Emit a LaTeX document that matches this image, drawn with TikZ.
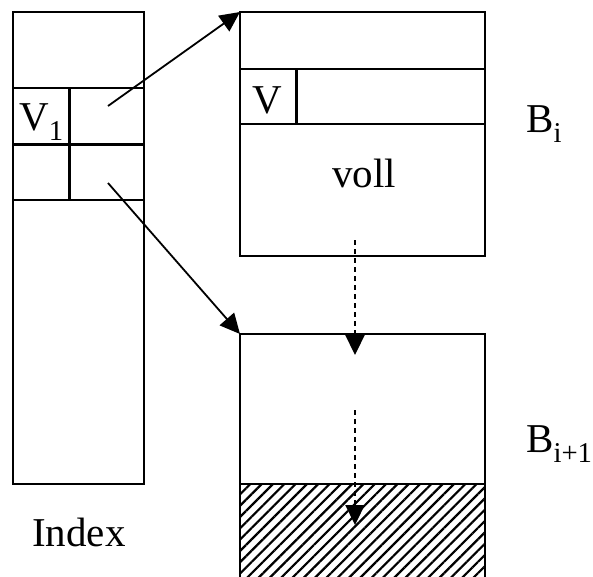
\documentclass[tikz,border=0pt]{standalone}
\usepackage{fontspec}
\setmainfont{Liberation Serif}
\usetikzlibrary{arrows.meta,patterns.meta}
\begin{document}
\begin{tikzpicture}[x=1pt,y=-1pt,
  ln/.style={line width=1.8pt},
  lnb/.style={line width=3pt},
  arr/.style={line width=1.8pt,-{Triangle[length=20pt,width=19pt]}},
  dotarr/.style={line width=2.2pt,dash pattern=on 4.5pt off 4.5pt,-{Triangle[length=20pt,width=19pt]}},
  lbl/.style={inner sep=0pt,anchor=base west,font=\fontsize{41}{49}\selectfont},
  hatch/.style={pattern={Lines[angle=45,distance=8pt,line width=2.2pt]}}]
\clip (0,0) rectangle (593,576);
% Index column
\draw[ln] (13,12) rectangle (144,484);
\draw[ln] (13,88) -- (144,88);
\draw[ln] (13,200) -- (144,200);
\draw[lnb] (13,144) -- (144,144);
\draw[lnb] (69,88) -- (69,200);
\node[lbl] (v1) at (19,130) {V\textsubscript{1}};
\node[lbl] (index) at (32,546) {Index};
% Block B_i
\draw[ln] (240,12) rectangle (485,256);
\draw[ln] (240,69) -- (485,69);
\draw[ln] (240,124) -- (485,124);
\draw[lnb] (296,69) -- (296,124);
\node[lbl] (v) at (252,113) {V};
\node[lbl] (voll) at (332,187) {voll};
\node[lbl] (bi) at (526,132) {B\textsubscript{i}};
% Block B_{i+1}
\fill[hatch] (240,484) rectangle (485,580);
\draw[ln] (240,580) -- (240,334) -- (485,334) -- (485,580);
\draw[ln] (240,484) -- (485,484);
\node[lbl] (bi1) at (526,452) {B\textsubscript{i+1}};
% connectors
\coordinate (p1) at (108,106);
\coordinate (p2) at (108,183);
\coordinate (bitop) at (240,12);
\coordinate (bi1top) at (240,334);
\coordinate (d1s) at (355,240);
\coordinate (d1e) at (355,355);
\coordinate (d2s) at (355,410);
\coordinate (d2e) at (355,525);
\draw[arr] (p1) -- (bitop);
\draw[arr] (p2) -- (bi1top);
\draw[dotarr] (d1s) -- (d1e);
\draw[dotarr] (d2s) -- (d2e);
\end{tikzpicture}
\end{document}
